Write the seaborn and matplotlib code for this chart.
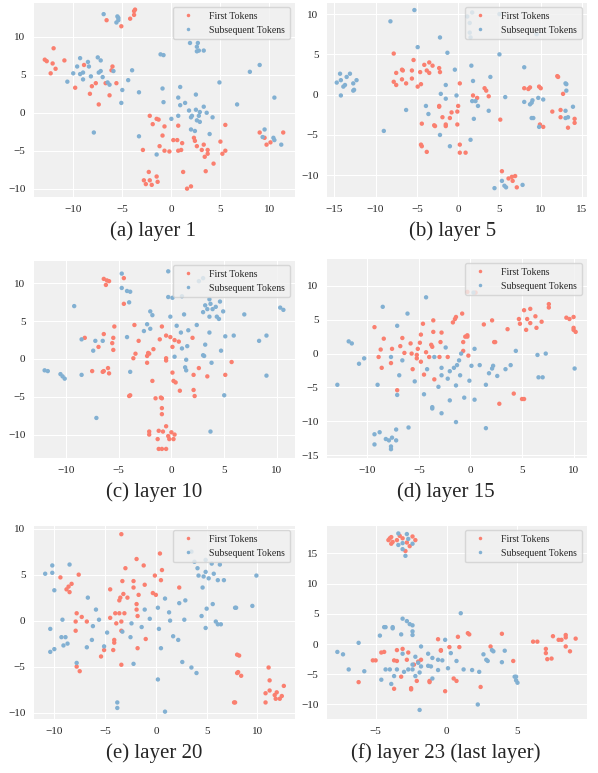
import pandas as pd
import numpy as np
import seaborn as sns
import matplotlib.pyplot as plt

# colori e nomi delle classi
labels = ["First Tokens", "Subsequent Tokens"]
colori = ["#FA7F6F", "#82B0D2"]
didascalie = ["(a) layer 1", "(b) layer 5", "(c) layer 10",
              "(d) layer 15", "(e) layer 20", "(f) layer 23 (last layer)"]

# (a) layer 1
a_first = [(-12.9, 7.0), (-12.7, 6.8), (-12.0, 8.5), (-12.1, 6.5), (-11.8, 5.8), (-12.3, 5.2), (-10.9, 6.9),
           (-9.8, 3.3), (-8.9, 6.3), (-8.3, 2.5), (-8.1, 3.5), (-7.7, 3.9), (-7.4, 1.1), (-6.7, 3.9), (-6.3, 2.3),
           (-6.0, 6.1), (-6.1, 5.6), (-5.6, 3.9), (-6.6, 12.2), (-5.1, 11.4), (-4.2, 12.4), (-3.8, 12.9),
           (-3.8, 13.4), (-3.7, 13.6), (-2.2, -0.4), (-1.9, -1.5), (-1.5, -0.8), (-1.3, -0.9), (-0.7, -1.8),
           (-0.9, -3.0), (-1.2, -4.4), (-0.7, -5.0), (-0.2, -5.1), (-2.9, -4.9), (0.2, -3.6), (0.6, -3.6),
           (0.7, -5.0), (1.0, -4.9), (0.7, -1.7), (1.1, -4.0), (1.2, -7.8), (-2.3, -7.8), (-1.5, -8.4),
           (-1.4, -9.1), (-2.8, -8.9), (-2.6, -9.4), (-2.0, -9.5), (-2.2, -8.9), (1.6, -10.0), (2.0, -9.7),
           (2.3, -3.3), (2.4, -3.7), (2.6, -4.4), (3.1, -4.9), (3.3, -4.2), (3.4, -5.8), (3.5, -7.7), (3.7, -4.9),
           (3.7, -5.4), (4.3, -6.7), (5.0, -3.8), (5.2, -5.4), (5.5, -5.0), (5.5, -1.6), (9.0, -2.6), (9.5, -3.3),
           (9.7, -4.2), (10.1, -3.9), (11.4, -2.6)]
a_subs = [(-10.6, 4.1), (-10.0, 5.2), (-9.6, 6.1), (-9.3, 7.2), (-9.3, 5.1), (-9.0, 4.4), (-9.0, 5.3), (-8.5, 6.7),
          (-8.4, 6.1), (-8.2, 4.8), (-7.5, 7.3), (-7.2, 6.9), (-7.4, 5.3), (-7.2, 5.5), (-7.0, 4.7), (-6.5, 4.0),
          (-6.3, 3.7), (-5.9, 5.5), (-7.9, -2.6), (-6.9, 13.0), (-5.5, 12.7), (-5.4, 12.5), (-5.4, 12.2),
          (-5.6, 11.9), (-5.0, 3.0), (-5.1, 1.3), (-4.4, 4.3), (-4.0, 5.6), (-3.3, 2.7), (-3.3, -3.1), (-1.5, -5.5),
          (-1.1, 7.7), (-0.8, 7.6), (-0.9, 3.2), (-0.8, 1.4), (0.0, -0.8), (0.7, -0.4), (0.7, 2.0), (0.9, 3.4),
          (0.9, 1.0), (1.4, 1.3), (1.9, 9.2), (2.7, 9.2), (2.6, 8.7), (2.6, 8.1), (2.8, 8.2), (3.3, 8.2), (1.8, 0.3),
          (2.0, -0.6), (2.1, -0.4), (2.0, -2.2), (2.4, -2.4), (2.5, 2.4), (2.5, 0.4), (2.6, -1.0), (2.8, -0.4),
          (2.9, -1.2), (2.9, 0.1), (3.3, 0.8), (3.6, 0.0), (4.2, -0.6), (3.9, -2.8), (4.9, 4.0), (6.7, 1.1),
          (8.0, 5.4), (9.0, 6.3), (9.5, -2.2), (9.3, -3.2), (10.4, -3.3), (10.5, -3.6), (10.5, 2.0), (11.2, -4.2)]

# (b) layer 5
b_first = [(-7.8, 5.1), (-7.8, 1.6), (-7.5, 2.7), (-7.5, 1.2), (-6.8, 3.1), (-6.7, 3.0), (-6.8, 1.9), (-6.3, 1.4),
           (-5.6, 3.0), (-5.6, 2.0), (-5.4, 4.3), (-4.9, 1.0), (-4.6, 2.8), (-4.5, 1.3), (-4.1, 3.7), (-3.8, 3.0),
           (-3.5, 4.0), (-3.5, 2.7), (-3.1, 3.6), (-2.3, 3.3), (-2.2, 2.8), (-2.3, -1.4), (-2.3, -1.5), (-1.9, -2.8),
           (-1.5, -3.9), (-1.5, -3.7), (-1.0, -2.9), (-0.8, -2.2), (-4.4, -3.6), (-2.9, -3.8), (-2.8, -3.9),
           (-4.5, -6.2), (-4.4, -6.4), (-3.8, -7.1), (0.0, -1.4), (-0.1, -2.1), (-0.1, -3.7), (0.2, 1.4),
           (0.2, -6.2), (0.2, -7.2), (0.9, -7.2), (1.8, -0.1), (2.3, -0.4), (3.2, 0.8), (3.4, 0.5), (3.7, -0.2),
           (5.1, -3.1), (5.3, -9.5), (6.1, -10.4), (6.5, -10.2), (6.6, -10.7), (6.9, -10.1), (7.1, -11.5),
           (8.0, 0.8), (8.5, 0.7), (8.7, 0.9), (9.8, 1.0), (10.0, 0.8), (9.9, -3.7), (10.3, -4.0), (11.4, -2.1),
           (12.0, 2.3), (12.1, 2.2), (12.4, -1.9), (12.4, -2.8), (12.7, 0.1), (13.3, -4.1), (14.1, -3.0), (14.1, -3.5)]
b_subs = [(-14.7, 1.5), (-14.3, 2.6), (-14.2, 1.8), (-14.2, -0.1), (-13.9, 1.0), (-13.7, 1.2), (-13.5, 2.2),
          (-13.1, 2.6), (-12.7, 1.4), (-12.7, 0.5), (-12.6, 0.6), (-12.3, 1.8), (-9.0, -4.5), (-8.2, 9.1),
          (-6.3, -1.9), (-5.3, 10.5), (-4.9, 5.9), (-3.9, -1.4), (-3.6, -2.4), (-2.2, 7.1), (-2.2, -5.0), (-2.1, 0.1),
          (-1.3, 5.2), (-1.5, 1.2), (-1.5, -0.5), (-1.0, -6.4), (-0.4, 3.1), (-0.2, -0.1), (1.1, 9.7), (1.4, 8.9),
          (1.5, 7.1), (1.4, 7.7), (1.7, 10.2), (1.6, 3.6), (1.8, 1.7), (1.7, -0.8), (2.1, -0.8), (2.4, -1.4),
          (1.9, -3.0), (1.5, -5.6), (3.9, 2.2), (3.7, -2.0), (5.0, 10.0), (5.0, 5.0), (5.7, -0.3), (5.3, -10.7),
          (5.6, -11.3), (5.8, -11.5), (4.4, -11.6), (7.8, -11.2), (8.0, 3.4), (8.0, -0.9), (8.7, -1.2), (8.9, -1.0),
          (9.0, -0.7), (8.9, -2.9), (9.1, -2.9), (9.5, 7.5), (9.7, -0.4), (9.8, -4.0), (10.3, -0.6), (13.0, 1.4),
          (13.1, 1.3), (13.1, 0.5), (13.0, -2.0), (13.0, -2.9), (13.3, -2.8), (13.9, -1.5)]

# (c) layer 10
c_first = [(-6.4, 10.6), (-6.1, 10.4), (-5.9, 10.3), (-6.2, 9.8), (-4.5, 10.7), (-4.5, 7.3), (-5.4, 4.3),
           (-5.5, 2.8), (-5.6, 2.1), (-5.5, 1.2), (-6.4, 3.3), (-8.2, 2.8), (-6.9, 1.6), (-7.5, -1.6), (-6.5, -1.7),
           (-6.4, -1.6), (-6.0, -1.2), (-5.9, -1.9), (-3.5, 4.5), (-3.4, 0.7), (-3.6, 0.1), (-4.0, -4.9),
           (-3.9, -4.8), (-3.1, 2.4), (-2.3, 0.4), (-2.2, 0.8), (-2.1, 0.7), (-2.3, -0.5), (-1.7, 1.3), (-1.8, -2.9),
           (-1.5, -5.2), (-1.1, 2.6), (-0.9, 4.3), (-1.0, -5.1), (-0.9, -5.2), (-0.9, -6.5), (-0.9, -7.3),
           (-0.5, 3.1), (-0.5, 0.1), (-0.5, -0.2), (-0.1, 2.9), (0.1, 1.6), (0.1, -1.8), (0.2, -2.9), (0.4, -3.1),
           (0.3, 2.5), (0.7, 2.3), (0.8, -4.2), (-0.5, -8.9), (-1.2, -9.5), (-0.8, -9.6), (-2.1, -9.6),
           (-2.1, -10.0), (-1.3, -10.6), (-0.3, -10.2), (-0.2, -10.6), (0.0, -9.7), (0.3, -10.0), (0.2, -10.6),
           (-1.2, -11.9), (-0.9, -11.9), (-0.5, -11.9), (2.0, 2.8), (2.1, -2.1), (2.1, -4.1), (2.2, -4.9),
           (2.6, -1.2), (3.4, -2.3), (5.1, -2.1), (5.7, -0.4)]
c_subs = [(-12.0, -1.5), (-11.7, -1.6), (-10.5, -2.0), (-10.3, -2.3), (-10.1, -2.6), (-9.2, 7.0), (-8.5, 2.6),
          (-8.5, -2.1), (-7.4, 1.1), (-7.2, 2.4), (-6.5, 2.4), (-7.1, -7.8), (-4.7, 11.3), (-4.7, 9.4), (-4.2, 9.0),
          (-3.9, 8.9), (-4.0, 7.5), (-4.2, 2.9), (-3.9, -1.7), (-2.6, 3.7), (-2.3, 4.6), (-2.0, 4.0), (-2.0, 6.3),
          (-1.8, 5.8), (-0.3, 11.6), (-0.3, 8.2), (0.1, 8.1), (-0.1, 5.6), (0.5, 4.4), (0.3, 0.3), (1.0, 8.3),
          (0.9, 3.5), (1.0, 1.4), (1.2, 5.9), (1.4, -0.1), (1.3, -1.1), (1.4, -1.5), (1.5, 1.7), (1.6, 3.8),
          (2.4, 4.5), (2.6, 10.3), (3.0, 10.7), (3.0, 6.2), (3.0, 0.5), (3.1, 0.4), (3.2, 7.1), (3.2, 1.9),
          (3.4, 6.6), (3.6, 7.9), (3.7, 7.3), (3.6, 5.6), (3.6, 3.5), (3.9, 6.6), (3.8, -0.5), (3.7, -9.6),
          (4.2, 6.9), (4.3, 5.6), (4.5, 5.3), (4.6, 7.6), (4.7, 1.1), (4.9, 6.3), (5.0, -4.8), (5.1, 3.0),
          (5.9, 3.1), (6.9, 5.9), (8.3, 2.4), (9.0, 3.1), (9.0, -2.2), (10.3, 6.8), (10.6, 6.5)]

# (d) layer 15
d_first = [(-9.3, 3.9), (-8.9, -0.5), (-8.7, 0.6), (-8.6, -2.1), (-8.4, 2.2), (-7.6, 0.7), (-7.7, -1.4),
           (-7.1, -5.4), (-6.8, 1.1), (-6.6, 2.3), (-6.4, 0.1), (-5.8, 1.5), (-5.7, 0.0), (-5.6, -2.3), (-5.2, -0.2),
           (-5.2, -0.7), (-5.1, 0.7), (-4.9, 1.6), (-4.8, 2.8), (-4.8, -1.2), (-4.6, 4.4), (-4.5, -3.1), (-4.3, 0.2),
           (-4.0, -0.5), (-3.8, 1.3), (-3.7, 1.0), (-3.6, 4.9), (-3.6, 3.2), (-3.5, -3.8), (-3.0, -0.5), (-2.9, 1.7),
           (-2.8, 3.1), (-2.2, -0.5), (-1.7, 4.6), (-1.5, 5.1), (-1.4, 5.4), (-0.8, 5.9), (-0.7, 1.7), (-0.5, 2.5),
           (-0.3, 2.7), (-0.3, 2.5), (-0.7, 0.4), (-0.2, -0.3), (-0.3, 9.1), (0.5, 9.0), (1.3, 4.3), (2.1, 4.9),
           (2.3, 1.7), (2.4, 1.7), (2.8, -7.4), (3.6, 3.6), (4.2, -5.9), (5.0, -6.7), (5.2, -6.7), (5.2, 6.4),
           (4.7, 5.1), (4.8, 4.4), (5.5, 5.1), (5.4, 3.5), (5.8, 6.6), (5.8, 4.5), (6.3, 5.5), (6.4, 3.8), (6.9, 4.7),
           (7.6, 7.3), (7.6, 6.8), (9.3, 5.3), (9.6, 5.1), (10.0, 5.4), (10.0, 3.8), (10.0, 3.5), (10.2, 3.2)]
d_subs = [(-12.9, -4.6), (-11.8, 1.8), (-11.5, 1.5), (-10.8, -1.5), (-10.3, -0.7), (-9.0, -4.6), (-9.3, -11.9),
          (-9.3, -13.4), (-8.8, -11.6), (-8.5, 6.9), (-8.2, -12.6), (-7.9, -12.8), (-7.6, -12.4), (-7.7, -13.7),
          (-7.7, -14.1), (-7.2, -11.2), (-7.2, -12.8), (-7.1, 4.1), (-7.7, -0.5), (-7.1, -6.1), (-6.9, -3.2),
          (-6.6, -1.0), (-6.1, 5.9), (-6.0, -10.9), (-5.4, -4.1), (-4.5, -6.0), (-4.3, 8.3), (-4.2, -2.3),
          (-3.7, -8.1), (-3.7, -7.9), (-3.5, -0.5), (-3.1, -4.9), (-2.8, -2.1), (-2.8, -3.2), (-2.8, -8.8),
          (-2.4, 0.9), (-2.2, -3.7), (-2.0, -2.6), (-2.0, -6.9), (-1.6, -2.1), (-1.4, -4.7), (-1.4, -10.1),
          (-1.3, -1.7), (-1.1, -1.0), (-1.0, -3.2), (-0.9, 0.0), (-0.6, -6.5), (-0.1, -4.0), (0.3, 9.0),
          (0.1, -1.8), (0.4, 0.7), (0.4, -6.8), (0.9, -1.7), (1.5, -4.6), (1.5, -11.0), (1.8, -2.9), (2.1, -2.2),
          (2.2, -1.8), (2.6, -3.3), (3.4, -2.3), (3.9, -1.7), (4.4, 0.4), (6.5, -0.2), (6.6, -3.5), (7.0, -3.5),
          (7.3, 0.0), (10.1, -2.2)]

# (e) layer 20
e_first = [(-9.4, 4.7), (-8.8, 3.4), (-8.6, 3.7), (-8.5, 3.1), (-8.3, 4.0), (-7.6, 5.0), (-7.9, -0.1), (-7.8, 0.8),
           (-7.3, 0.4), (-7.9, -1.1), (-7.8, -5.0), (-7.5, -5.5), (-6.8, -0.1), (-5.4, -3.9), (-5.1, -3.2),
           (-4.5, 0.3), (-4.5, 3.4), (-4.2, -3.2), (-4.1, -2.1), (-4.1, -2.4), (-4.0, 0.8), (-3.9, -0.3), (-3.6, 2.2),
           (-3.5, 2.5), (-3.6, 0.8), (-3.4, 9.4), (-3.3, 4.3), (-3.4, -1.1), (-3.4, -0.1), (-3.4, -4.8), (-3.2, 2.9),
           (-3.1, 0.8), (-3.0, 5.7), (-2.8, 2.5), (-2.2, 4.3), (-2.2, 3.6), (-1.9, 6.7), (-1.9, 1.8), (-1.9, 1.2),
           (-1.8, 0.5), (-1.8, -3.0), (-1.7, 2.8), (-1.2, 6.0), (-1.1, 3.9), (-1.0, -2.0), (-0.3, 3.0), (0.0, 2.8),
           (-0.1, 4.9), (0.4, 7.3), (0.5, 4.4), (0.6, 5.5), (2.3, 3.6), (7.7, -8.9), (7.8, -8.9), (8.0, -5.7),
           (8.0, -3.7), (8.2, -3.8), (8.1, -5.6), (8.4, -6.0), (10.8, -8.9), (10.8, -7.9), (11.1, -5.1),
           (11.2, -6.5), (11.2, -7.6), (11.7, -8.1), (11.8, -8.5), (11.9, -7.8), (12.2, -8.5), (12.4, -8.2),
           (12.6, -7.1)]
e_subs = [(-10.9, 5.1), (-10.2, 6.0), (-10.2, 5.2), (-10.0, 3.3), (-10.4, -0.9), (-10.4, -3.4), (-10.0, -3.1),
          (-9.2, 0.1), (-9.3, -1.8), (-8.9, -1.8), (-9.1, -2.7), (-8.7, -2.5), (-8.5, 6.1), (-7.8, -4.6),
          (-6.7, 2.5), (-6.8, -2.9), (-6.3, -2.1), (-6.2, -0.6), (-5.9, 1.2), (-5.6, 0.1), (-5.1, -2.8),
          (-4.8, -1.3), (-3.8, -8.9), (-3.8, -9.5), (-3.3, -1.2), (-2.5, -1.8), (-2.4, -0.3), (-2.2, -4.7),
          (-1.4, -0.7), (-1.1, 1.2), (-0.6, 0.2), (0.2, 1.4), (0.3, -0.9), (0.5, -3.0), (0.2, -6.4), (0.9, 2.4),
          (0.9, -9.9), (1.3, 0.9), (1.4, 0.0), (1.7, -1.7), (2.2, -2.1), (2.3, 1.9), (2.6, -4.5), (2.8, 0.1),
          (2.9, 2.2), (3.5, -5.1), (3.5, 7.5), (3.8, 6.4), (4.0, -5.7), (4.1, 5.7), (4.2, 4.9), (4.5, 0.5),
          (4.6, 3.6), (4.7, 4.8), (4.9, 5.3), (4.9, -0.8), (5.0, 1.3), (4.9, 6.6), (5.2, 4.6), (5.5, 6.2),
          (5.6, 1.8), (5.7, 5.1), (5.9, -0.1), (6.1, 4.4), (6.1, -0.4), (6.3, 6.1), (6.4, -0.4), (6.7, 4.4),
          (7.8, 1.4), (7.9, 1.4), (9.5, 1.6), (9.9, 4.9)]

# (f) layer 23
f_first = [(-4.1, 17.2), (-4.0, 17.5), (-3.9, 17.7), (-3.8, 16.9), (-3.9, 16.6), (-3.5, 17.2), (-3.3, 17.9),
           (-3.1, 17.5), (-2.9, 15.4), (-2.8, 16.8), (-2.6, 16.2), (-2.4, 17.8), (-2.2, 17.2), (-6.2, -6.3),
           (-5.2, -2.7), (-5.0, -2.7), (-4.6, -1.4), (-4.4, -1.3), (-3.5, -1.0), (-3.5, -2.8), (-3.7, -2.7),
           (-3.7, -7.4), (-3.2, -5.4), (-3.1, -0.8), (-2.7, -1.4), (-2.8, -2.6), (-2.5, -7.3), (-2.5, -7.5),
           (-2.3, -3.4), (-2.1, -6.1), (-2.0, -2.9), (-1.8, -2.6), (-1.2, -6.1), (-1.2, -6.3), (-0.6, 0.8),
           (-0.4, -1.0), (-0.4, -1.1), (-0.1, -7.8), (0.2, -0.5), (0.5, -5.7), (0.7, -6.1), (0.8, 1.2), (0.9, -0.5),
           (1.5, 1.8), (1.6, 1.6), (2.4, -7.1), (3.1, -0.4), (3.9, 1.7), (4.7, -2.8), (6.1, 0.4), (6.4, 0.4),
           (7.0, -1.5), (7.0, -0.8), (7.1, -2.5), (7.4, -2.4), (7.5, 1.3), (7.9, 0.7), (8.1, 0.7), (8.4, 1.5),
           (8.4, 1.1), (8.4, -0.4), (8.7, -1.2), (9.1, 0.9)]
f_subs = [(-3.4, 18.3), (-3.4, 16.4), (-3.1, 16.7), (-3.1, 15.7), (-2.9, 14.6), (-2.8, 18.2), (-2.7, 17.4),
          (-2.4, 16.6), (-7.7, -1.3), (-7.3, -1.7), (-6.9, -4.2), (-6.2, 0.2), (-5.8, -4.5), (-4.7, 1.4),
          (-4.6, -5.9), (-4.4, 2.8), (-4.3, 2.8), (-4.3, -4.2), (-4.0, -4.2), (-3.8, 2.8), (-3.8, 2.6), (-3.9, -6.6),
          (-3.7, -5.3), (-3.5, -4.2), (-3.2, 1.6), (-3.1, 4.2), (-3.0, -4.6), (-2.8, 3.8), (-3.1, -1.6), (-2.6, 3.3),
          (-2.7, -4.2), (-2.4, 3.1), (-2.4, 2.1), (-2.4, 1.5), (-2.4, -3.4), (-2.4, -4.2), (-2.2, -5.3),
          (-2.2, -2.1), (-2.0, -3.1), (-1.9, -10.9), (-1.9, -4.7), (-1.8, -0.4), (-1.8, -3.7), (-1.3, -1.6),
          (-1.3, -3.6), (-1.1, -3.7), (-1.0, -5.7), (-1.0, -2.3), (-0.6, -2.6), (-0.6, -4.3), (-0.3, -2.7),
          (-0.1, 0.7), (0.1, -4.0), (0.3, -1.5), (0.7, -2.8), (1.0, 5.1), (1.2, -4.2), (1.8, -4.3), (2.3, -4.6),
          (2.2, -10.0), (2.6, -1.7), (2.8, -2.6), (2.9, -2.8), (3.2, -1.0), (3.3, -1.2), (3.9, -3.0), (4.1, -1.1),
          (4.8, -5.4), (4.9, -5.4), (4.9, -6.0), (5.0, -6.4)]

pannelli = [(a_first, a_subs), (b_first, b_subs), (c_first, c_subs),
            (d_first, d_subs), (e_first, e_subs), (f_first, f_subs)]
# limiti degli assi
xlim = [(-14.1, 12.6), (-16.0, 15.6), (-13.1, 11.7), (-14.0, 11.3), (-12.1, 13.7), (-8.5, 9.9)]
ylim = [(-11.1, 14.6), (-12.7, 11.5), (-13.1, 13.1), (-15.4, 14.1), (-10.7, 10.4), (-12.4, 19.7)]

sns.set_style("darkgrid", {"axes.facecolor": "#F0F0F0", "grid.color": "white"})
plt.rcParams['font.family'] = ['Liberation Serif', 'DejaVu Serif']
plt.rcParams['axes.unicode_minus'] = True

fig = plt.figure(figsize=(5.98, 7.73), dpi=100)
W, H = 598, 773
# posizioni in pixel: sinistra, destra, alto, basso
box = [(33, 295, 2, 197), (326, 587, 2, 197),
       (33, 295, 260, 458), (326, 587, 258, 458),
       (33, 295, 525, 719), (326, 587, 525, 719)]
cap_pos = [(153, 231), (453, 231), (154, 492), (446, 492), (154, 753), (446, 753)]

for i, (first, subs) in enumerate(pannelli):
    l, r, t, b = box[i]
    ax = fig.add_axes([l / W, 1 - b / H, (r - l) / W, (b - t) / H])
    df = pd.DataFrame(first + subs, columns=["x", "y"])
    df["Token"] = [labels[0]] * len(first) + [labels[1]] * len(subs)
    sns.scatterplot(data=df, x="x", y="y", hue="Token", palette=colori,
                    s=10, linewidth=0, ax=ax)
    ax.set_xlim(*xlim[i])
    ax.set_ylim(*ylim[i])
    ax.set_xlabel("")
    ax.set_ylabel("")
    ax.tick_params(labelsize=8, pad=2)
    leg = ax.legend(loc="upper right", fontsize=7, frameon=True, markerscale=0.8,
                    handletextpad=1.2, borderpad=0.5, labelspacing=0.5)
    leg.get_frame().set_facecolor("#F0F0F0")
    leg.get_frame().set_edgecolor("#D0D0D0")
    fig.text(cap_pos[i][0] / W, 1 - cap_pos[i][1] / H, didascalie[i],
             ha="center", va="center", fontsize=15)

plt.savefig("out.png", dpi=100)
